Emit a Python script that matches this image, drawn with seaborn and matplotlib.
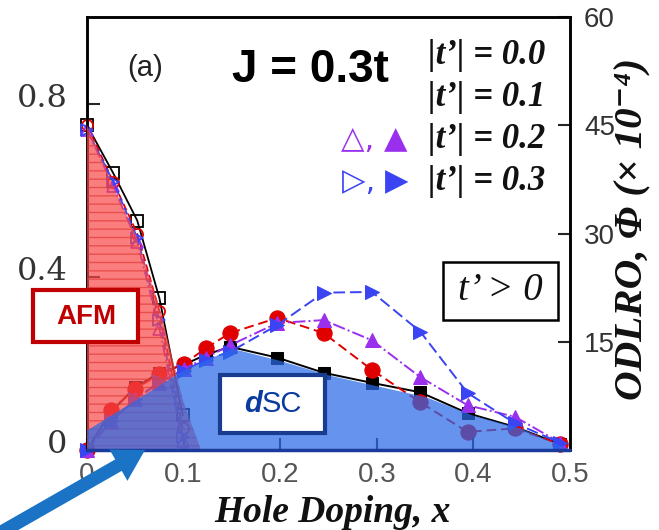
import matplotlib
matplotlib.use('Agg')
import matplotlib.pyplot as plt
import seaborn as sns
from matplotlib.patches import FancyArrowPatch, ArrowStyle, Rectangle
from matplotlib.transforms import ScaledTranslation

# ---------------------
# Dados
# ---------------------
# AFM (eixo esquerdo, marcadores abertos)
afm_x = [0.0, 0.027, 0.052, 0.075, 0.099]
afm_t00 = [0.75, 0.64, 0.53, 0.35, 0.08]
afm_t01 = [0.75, 0.62, 0.50, 0.32, 0.05]
afm_t02 = [0.74, 0.61, 0.48, 0.28, 0.02]
afm_t03 = [0.74, 0.62, 0.49, 0.30, 0.03]

# ODLRO (eixo direito, marcadores cheios)
sc_x = [0.0, 0.025, 0.05, 0.075, 0.1, 0.123, 0.148, 0.197, 0.245, 0.295, 0.345, 0.394, 0.443, 0.49]
sc_t00 = [0.0, 5.3, 8.7, 10.7, 11.8, 13.2, 14.3, 12.8, 10.7, 9.3, 8.0, 5.1, 3.2, 0.8]
sc_t01 = [0.0, 5.5, 8.5, 10.5, 11.9, 14.1, 16.2, 18.3, 16.2, 11.1, 6.6, 2.5, 3.0, 0.8]
sc_t02 = [0.0, 4.0, 7.0, 9.3, 11.2, 12.8, 14.5, 17.6, 18.0, 15.2, 10.1, 6.2, 4.6, 1.0]
sc_t03 = [0.0, 4.0, 7.0, 9.5, 11.0, 12.5, 13.6, 17.3, 21.8, 21.9, 16.4, 7.9, 3.7, 1.0]

# Regioes sombreadas
afm_edge_x = [0.0, 0.025, 0.05, 0.075, 0.1, 0.118]
afm_edge_y = [0.75, 0.62, 0.50, 0.33, 0.11, 0.0]
dsc_edge_x = [0.0, 0.1, 0.15, 0.2, 0.25, 0.3, 0.35, 0.4, 0.45, 0.5]
dsc_edge_y = [2.8, 11.1, 14.1, 12.4, 10.4, 8.9, 7.4, 4.8, 3.0, 0.0]

x_ticks = [0, 0.1, 0.2, 0.3, 0.4, 0.5]
x_ticklabels = ['0', '0.1', '0.2', '0.3', '0.4', '0.5']
yl_ticks = [0, 0.4, 0.8]
yl_ticklabels = ['0', '0.4', '0.8']
yr_ticks = [15, 30, 45, 60]
legend_labels = ['|t’| = 0.0', '|t’| = 0.1', '|t’| = 0.2', '|t’| = 0.3']

RED = '#e00000'
PURPLE = '#9a30ee'
BLUE = '#3a44f2'

# ---------------------
# Figura
# ---------------------
sns.set_theme(style='ticks')
plt.rcParams['hatch.linewidth'] = 1.0
SANS = ['Liberation Sans', 'DejaVu Sans']
SERIF = ['Liberation Serif', 'DejaVu Serif']

W, H = 659, 530
fig = plt.figure(figsize=(W / 100, H / 100), dpi=100)
fig.patch.set_facecolor('white')
ax = fig.add_axes([87 / W, 80 / H, 483 / W, 433 / H])
ax2 = ax.twinx()
ax.set_zorder(ax2.get_zorder() + 1)
ax.patch.set_visible(False)

# ODLRO - eixo direito
sc_series = [
    (sc_t00, 'black', 's', '-', 8.5),
    (sc_t01, RED, 'o', (0, (5, 2.5)), 11),
    (sc_t02, PURPLE, '^', '-.', 10),
    (sc_t03, BLUE, '>', (0, (6, 2.5)), 10),
]
for vals, c, m, ls, ms in sc_series:
    sns.lineplot(x=sc_x, y=vals, ax=ax2, color=c, marker=m, linestyle=ls,
                 markersize=ms, markeredgecolor=c, markerfacecolor=c,
                 linewidth=1.4, clip_on=False)

# AFM - eixo esquerdo
afm_series = [
    (afm_t00, 'black', 's', '-', 8),
    (afm_t01, RED, 'o', (0, (4, 2)), 8),
    (afm_t02, PURPLE, '^', '-.', 8),
    (afm_t03, BLUE, '>', (0, (4, 2)), 8),
]
for vals, c, m, ls, ms in afm_series:
    sns.lineplot(x=afm_x, y=vals, ax=ax, color=c, marker=m, linestyle=ls,
                 markersize=ms, markeredgecolor=c, markerfacecolor='none',
                 markeredgewidth=1.3, linewidth=1.3, clip_on=False)

# regioes AFM e dSC por cima dos pontos
ax.fill_between(afm_edge_x, afm_edge_y, 0, facecolor='#f84848', edgecolor='#e03a3a',
                hatch='--', linewidth=0, alpha=0.7, zorder=3)
ax.fill_between(dsc_edge_x, dsc_edge_y, 0, transform=ax2.transData,
                facecolor='#2a6ae8', linewidth=0, alpha=0.72, zorder=3)
ax.axhline(0, color='#1a3a9c', lw=2.5, zorder=4, clip_on=False)

# eixos
ax.set_xlim(0, 0.5)
ax.set_ylim(0, 1.0)
ax2.set_ylim(0, 60)
ax.set_xticks(x_ticks)
ax.set_xticklabels(x_ticklabels)
ax.set_yticks(yl_ticks)
ax.set_yticklabels(yl_ticklabels)
ax2.set_yticks(yr_ticks)
ax2.set_yticklabels([str(v) for v in yr_ticks])

ax.tick_params(axis='x', direction='in', length=9, width=1.5, labelsize=20,
               labelcolor='#555555', pad=9, labelfontfamily='Liberation Sans')
ax.tick_params(axis='y', direction='in', length=9, width=1.5, labelsize=23,
               labelcolor='#333333', pad=14, labelfontfamily='DejaVu Serif')
ax2.tick_params(axis='y', direction='in', length=9, width=1.5, labelsize=20,
                labelcolor='#333333', pad=10, labelfontfamily='Liberation Sans')
for lab in ax.get_yticklabels():
    lab.set_transform(lab.get_transform() + ScaledTranslation(0, 0.09, fig.dpi_scale_trans))

for a in (ax, ax2):
    for s in a.spines.values():
        s.set_linewidth(1.8)
        s.set_color('black')

ax.set_xlabel('Hole Doping, x', family=SERIF, fontsize=27, fontweight='bold',
              fontstyle='italic', color='#111111', va='top')
ax.xaxis.set_label_coords(0.509, -0.105)
ax2.set_ylabel('ODLRO, Φ (× 10⁻⁴)', family=SERIF, fontsize=29.5, fontweight='bold',
               fontstyle='italic', color='#111111', rotation=90, va='center', ha='center')
ax2.yaxis.set_label_coords(1.13, 0.51)
ax.set_ylabel('')

# textos
fig.text(145 / W, 1 - 68 / H, '(a)', family=SANS, fontsize=21, ha='center', va='center',
         color='#222222')
fig.text(310 / W, 1 - 70 / H, 'J = 0.3t', family=SANS, fontsize=33, fontweight='bold',
         ha='center', va='center', color='black')
for lab, yy in zip(legend_labels, [55, 97, 139, 181]):
    fig.text(428 / W, 1 - yy / H, lab, family=SERIF, fontsize=25, fontweight='bold',
             fontstyle='italic', ha='left', va='center', color='#111111')
fig.text(374 / W, 1 - 139 / H, '△, ▲', family=['DejaVu Sans'], fontsize=22,
         ha='center', va='center', color=PURPLE)
fig.text(375 / W, 1 - 181 / H, '▷, ▶', family=['DejaVu Sans'], fontsize=22,
         ha='center', va='center', color=BLUE)

# caixas
def caixa(x0, y0, x1, y1, cor, lw):
    r = Rectangle((x0 / W, 1 - y1 / H), (x1 - x0) / W, (y1 - y0) / H,
                  transform=fig.transFigure, facecolor='white', edgecolor=cor,
                  linewidth=lw, zorder=5)
    fig.patches.append(r)

caixa(33, 290, 138, 342, '#c00000', 3)
fig.text(86 / W, 1 - 317 / H, 'AFM', family=SANS, fontsize=20, fontweight='bold',
         ha='center', va='center', color='#c00000', zorder=6)

caixa(220, 375, 325, 433, '#1a3c90', 3)
fig.text(262 / W, 1 - 404 / H, 'd', family=SANS, fontsize=21, fontstyle='italic',
         fontweight='bold', ha='right', va='center', color='#0b3aa0', zorder=6)
fig.text(262 / W, 1 - 404 / H, 'SC', family=SANS, fontsize=21,
         ha='left', va='center', color='#0b3aa0', zorder=6)

caixa(443, 262, 558, 320, 'black', 1.8)
fig.text(500 / W, 1 - 291 / H, 't’ > 0', family=SERIF, fontsize=28, fontstyle='italic',
         ha='center', va='center', color='#111111', zorder=6)

# seta azul
seta = FancyArrowPatch(posA=(-2 / W, -4 / H), posB=(145 / W, 80 / H),
                       transform=fig.transFigure,
                       arrowstyle=ArrowStyle('simple', head_length=2.2, head_width=2.6,
                                             tail_width=0.95),
                       mutation_scale=10, color='#1b73c6', lw=0,
                       shrinkA=0, shrinkB=0, zorder=7)
fig.patches.append(seta)

fig.savefig('out.png', dpi=100)
